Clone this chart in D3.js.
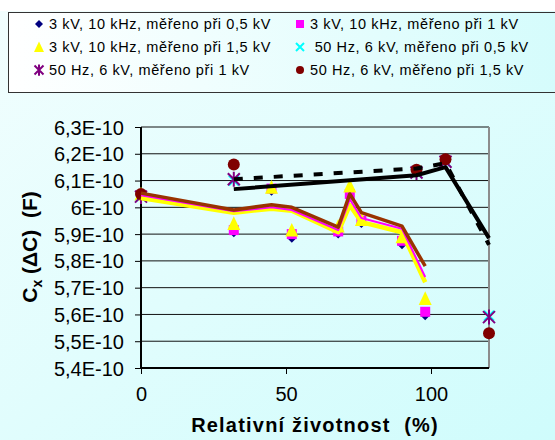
<!DOCTYPE html>
<html>
<head>
<meta charset="utf-8">
<script src="https://cdn.jsdelivr.net/npm/d3@7"></script>
<style>
  body { margin: 0; padding: 0; }
  text { font-family: "Liberation Sans", Arial, sans-serif; }
</style>
</head>
<body>
<div id="chart"></div>
<script>
// values in units of 1E-10 F

const xA = [0, 32, 45, 52, 68, 72, 76, 90, 98];
const s1 = [6.04, 5.905, 6.06, 5.885, 5.9, 6.04, 5.94, 5.86, 5.595]; // diamond
const s2 = [6.045, 5.915, 6.07, 5.9, 5.91, 6.05, 5.95, 5.875, 5.61]; // square
const s3 = [6.05, 5.94, 6.075, 5.915, 5.93, 6.08, 5.955, 5.89, 5.66]; // triangle

const xB = [0, 32, 95, 105, 120];
const s4 = [6.04, 6.1, 6.13, 6.17, 5.595]; // x
const s5 = [6.04, 6.105, 6.13, 6.17, 5.59]; // asterisk
const s6 = [6.05, 6.16, 6.14, 6.18, 5.53]; // circle

// trend lines
const lineBrown = [6.053, 5.99, 6.01, 6.0, 5.926, 6.05, 5.98, 5.93, 5.78];
const lineMagenta = [6.045, 5.985, 6.0, 5.99, 5.915, 6.03, 5.96, 5.92, 5.74];
const lineYellow = [6.035, 5.98, 5.995, 5.987, 5.907, 6.008, 5.945, 5.907, 5.72];
const xT = [32, 95, 105, 120];
const lineSolid = [6.068, 6.12, 6.15, 5.885];
const lineDashed = [6.105, 6.145, 6.165, 5.86];

const yTicks = [5.4, 5.5, 5.6, 5.7, 5.8, 5.9, 6.0, 6.1, 6.2, 6.3];
const yTickLabels = ["5,4E-10", "5,5E-10", "5,6E-10", "5,7E-10", "5,8E-10", "5,9E-10", "6E-10", "6,1E-10", "6,2E-10", "6,3E-10"];
const xTicks = [0, 50, 100];

const legendLabels = [
  "3 kV, 10 kHz, měřeno při 0,5 kV",
  "3 kV, 10 kHz, měřeno při 1 kV",
  "3 kV, 10 kHz, měřeno při 1,5 kV",
  " 50 Hz, 6 kV, měřeno při 0,5 kV",
  "50 Hz, 6 kV, měřeno při 1 kV",
  "50 Hz, 6 kV, měřeno při 1,5 kV"
];

const W = 555, H = 440;
const svg = d3.select("#chart").append("svg").attr("width", W).attr("height", H);

const defs = svg.append("defs");
const bg = defs.append("linearGradient").attr("id", "bg")
  .attr("x1", "0%").attr("y1", "0%").attr("x2", "100%").attr("y2", "100%");
bg.append("stop").attr("offset", "0%").attr("stop-color", "#f2fefe");
bg.append("stop").attr("offset", "100%").attr("stop-color", "#cffcfc");
const lg = defs.append("linearGradient").attr("id", "lg")
  .attr("x1", "0%").attr("y1", "0%").attr("x2", "100%").attr("y2", "0%");
lg.append("stop").attr("offset", "0%").attr("stop-color", "#ffffff");
lg.append("stop").attr("offset", "100%").attr("stop-color", "#d4fcfc");

svg.append("rect").attr("width", W).attr("height", H).attr("fill", "url(#bg)");
svg.append("rect").attr("width", W).attr("height", 11).attr("fill", "#ffffff");

const x = d3.scaleLinear().domain([0, 120]).range([141, 489]);
const y = d3.scaleLinear().domain([5.4, 6.3]).range([368, 127]);

// gridlines
svg.append("g").selectAll("line").data(yTicks.slice(1)).join("line")
  .attr("x1", x(0)).attr("x2", x(120))
  .attr("y1", d => y(d)).attr("y2", d => y(d))
  .attr("stroke", "#111").attr("stroke-width", 1);

// right border
svg.append("line").attr("x1", x(120)).attr("x2", x(120)).attr("y1", y(6.3)).attr("y2", y(5.4))
  .attr("stroke", "#8c8c8c").attr("stroke-width", 2);

// axes
const yAxis = svg.append("g").attr("transform", `translate(${x(0)},0)`)
  .call(d3.axisLeft(y).tickValues(yTicks).tickSize(6).tickPadding(11)
    .tickFormat((d, i) => yTickLabels[i]));
const xAxis = svg.append("g").attr("transform", `translate(0,${y(5.4)})`)
  .call(d3.axisBottom(x).tickValues(xTicks).tickSize(6).tickPadding(13));
[yAxis, xAxis].forEach(a => {
  a.select(".domain").attr("stroke", "#000").attr("stroke-width", 2);
  a.selectAll(".tick line").attr("stroke", "#000");
  a.selectAll("text").attr("font-size", 20).attr("fill", "#000")
    .style("font-family", '"Liberation Sans", Arial, sans-serif');
});
yAxis.select(".domain").attr("d", `M-0,${y(5.4)}V${y(6.3)}`);
xAxis.select(".domain").attr("d", `M${x(0)},0H${x(120)}`);
yAxis.selectAll(".tick text").attr("dy", "0.35em");

// markers
function symPath(kind, s) {
  const h = s / 2;
  switch (kind) {
    case "diamond": return `M0,${-h}L${h},0L0,${h}L${-h},0Z`;
    case "square": return `M${-h},${-h}H${h}V${h}H${-h}Z`;
    case "triangle": return `M0,${-h * 1.1}L${h},${h}L${-h},${h}Z`;
    case "x": return `M${-h},${-h}L${h},${h}M${h},${-h}L${-h},${h}`;
    case "star": return `M${-h},${-h}L${h},${h}M${h},${-h}L${-h},${h}M0,${-h * 1.25}V${h * 1.25}`;
    case "circle": return `M${-h},0A${h},${h} 0 1,0 ${h},0A${h},${h} 0 1,0 ${-h},0Z`;
  }
}
const styles = [
  { kind: "diamond", color: "#000080", size: 9 },
  { kind: "square", color: "#ff00ff", size: 10 },
  { kind: "triangle", color: "#ffff00", size: 13 },
  { kind: "x", color: "#00ffff", size: 10 },
  { kind: "star", color: "#800080", size: 12 },
  { kind: "circle", color: "#800000", size: 12 }
];
function drawMarkers(xs, ys, st) {
  const stroked = st.kind === "x" || st.kind === "star";
  svg.append("g").selectAll("path").data(ys).join("path")
    .attr("transform", (d, i) => `translate(${x(xs[i])},${y(d)})`)
    .attr("d", symPath(st.kind, st.size))
    .attr("fill", stroked ? "none" : st.color)
    .attr("stroke", stroked ? st.color : "none")
    .attr("stroke-width", 2);
}

drawMarkers(xA, s1, styles[0]);
drawMarkers(xA, s2, styles[1]);
drawMarkers(xA, s3, styles[2]);
drawMarkers(xB, s4, styles[3]);
drawMarkers(xB, s5, styles[4]);
drawMarkers(xB, s6, styles[5]);

// trend lines
const line = d3.line().x(d => x(d[0])).y(d => y(d[1]));
function drawLine(xs, ys, color, w, dash) {
  svg.append("path").datum(ys.map((v, i) => [xs[i], v]))
    .attr("d", line).attr("fill", "none").attr("stroke", color)
    .attr("stroke-width", w).attr("stroke-linejoin", "round")
    .attr("stroke-dasharray", dash || null);
}
drawLine(xA, lineYellow, "#ffff00", 4.5);
drawLine(xA, lineMagenta, "#ff00ff", 2);
drawLine(xA, lineBrown, "#993300", 3.5);
drawLine(xT, lineSolid, "#000", 4);
drawLine(xT, lineDashed, "#000", 4, "9,11");

// axis titles
svg.append("text").attr("x", 315).attr("y", 432).attr("text-anchor", "middle")
  .attr("font-size", 20).attr("font-weight", "bold").attr("fill", "#000")
  .attr("letter-spacing", 1.2).style("white-space", "pre")
  .text("Relativní životnost  (%)");

const yt = svg.append("text").attr("transform", "translate(37,247) rotate(-90)")
  .attr("text-anchor", "middle").attr("font-size", 21).attr("font-weight", "bold")
  .attr("fill", "#000").style("white-space", "pre");
yt.append("tspan").text("C");
yt.append("tspan").attr("font-size", 14).attr("dy", 5).text("x");
yt.append("tspan").attr("dy", -5).text(" (ΔC)");
yt.append("tspan").text("  (F)");

// legend
svg.append("rect").attr("x", 8.5).attr("y", 12.5).attr("width", 560).attr("height", 80)
  .attr("fill", "url(#lg)").attr("stroke", "#333").attr("stroke-width", 1);
const legPos = [[39, 24], [300, 24], [39, 47], [300, 47], [39, 70], [300, 70]];
const legSize = [8, 8, 10, 8, 9, 8];
legendLabels.forEach((lab, i) => {
  const st = styles[i];
  const stroked = st.kind === "x" || st.kind === "star";
  svg.append("path").attr("transform", `translate(${legPos[i][0]},${legPos[i][1]})`)
    .attr("d", symPath(st.kind, legSize[i]))
    .attr("fill", stroked ? "none" : st.color)
    .attr("stroke", stroked ? st.color : "none").attr("stroke-width", 2);
  svg.append("text").attr("x", legPos[i][0] + 10).attr("y", legPos[i][1] + 5)
    .attr("font-size", 14.5).attr("letter-spacing", 0.6).attr("fill", "#000")
    .style("white-space", "pre").text(lab);
});
</script>
</body>
</html>
